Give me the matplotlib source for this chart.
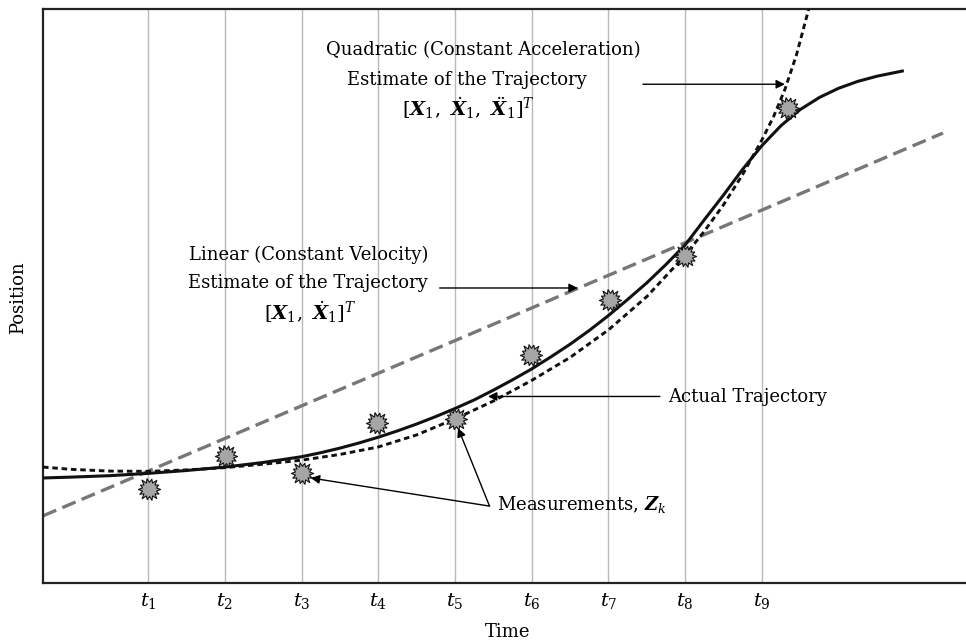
#!/usr/bin/env python3
# trajectory estimates vs measurements sketch
import numpy as np
import matplotlib
matplotlib.use('Agg')
import matplotlib.pyplot as plt
from matplotlib.path import Path

plt.rcParams['font.family'] = ['DejaVu Serif']
plt.rcParams['font.size'] = 13
plt.rcParams['mathtext.fontset'] = 'custom'
plt.rcParams['mathtext.rm'] = 'DejaVu Serif'
plt.rcParams['mathtext.it'] = 'DejaVu Serif:italic'
plt.rcParams['mathtext.bf'] = 'DejaVu Serif:italic:bold'

# sample times (t_k = k) and positions
actual_t = [-0.37, 0, 0.5, 1, 1.5, 2, 2.5, 3, 3.25, 3.5, 3.75, 4, 4.25, 4.5, 4.75, 5,
            5.25, 5.5, 5.75, 6, 6.25, 6.5, 6.75, 7, 7.25, 7.5, 7.75, 8, 8.25, 8.5,
            8.75, 9, 9.25, 9.5, 9.75, 10, 10.25, 10.5, 10.83]
actual_y = [1.83, 1.845, 1.87, 1.91, 1.96, 2.02, 2.10, 2.20, 2.27, 2.35, 2.44, 2.54,
            2.65, 2.77, 2.90, 3.04, 3.19, 3.36, 3.54, 3.73, 3.94, 4.16, 4.40, 4.66,
            4.94, 5.23, 5.55, 5.89, 6.33, 6.76, 7.21, 7.62, 7.97, 8.25, 8.46, 8.62,
            8.74, 8.83, 8.92]

quad_t = [-0.37, 0, 0.5, 1, 1.5, 2, 2.5, 3, 3.5, 4, 4.5, 5, 5.5, 6, 6.5, 7, 7.5, 8,
          8.25, 8.5, 8.75, 9, 9.15, 9.3, 9.45, 9.6, 9.7]
quad_y = [2.02, 1.98, 1.95, 1.945, 1.97, 2.01, 2.07, 2.14, 2.24, 2.37, 2.58, 2.86,
          3.17, 3.53, 3.93, 4.41, 4.99, 5.71, 6.13, 6.59, 7.12, 7.72, 8.12, 8.60,
          9.20, 9.95, 10.5]

lin_t = [-0.37, 11.36]
lin_y = [1.17, 7.84]

meas_t = [1.01, 2.02, 3.0, 3.98, 5.01, 5.99, 7.02, 8.0, 9.34]
meas_y = [1.64, 2.21, 1.92, 2.79, 2.86, 3.97, 4.93, 5.70, 8.28]

tick_pos = list(range(1, 10))
tick_labels = ['$t_{%d}$' % k for k in tick_pos]

# jagged burst marker
n = 14
jit = [1.0, 0.92, 1.05, 0.95, 1.0, 1.08, 0.9, 1.0, 0.97, 1.06, 0.93, 1.0, 1.04, 0.95]
verts = []
for i in range(n):
    a = 2 * np.pi * i / n
    b = a + np.pi / n
    verts.append((jit[i] * np.cos(a), jit[i] * np.sin(a)))
    verts.append((0.64 * np.cos(b), 0.64 * np.sin(b)))
verts.append(verts[0])
burst = Path(verts, closed=True)

fig = plt.figure(figsize=(9.66, 6.42), dpi=100)
ax = fig.add_axes([0.0445, 0.0919, 0.9555, 0.894])
ax.set_xlim(-0.37, 11.66)
ax.set_ylim(0, 10)

for k in tick_pos:
    ax.axvline(k, color='#b8b8b8', lw=1.0, zorder=0)

ax.plot(lin_t, lin_y, color='#777777', lw=2.4, ls=(0, (4.3, 2.0)), zorder=2)
ax.plot(actual_t, actual_y, color='#111111', lw=2.2, zorder=3)
ax.plot(quad_t, quad_y, color='#111111', lw=2.1, ls=(0, (1.9, 1.3)), zorder=3)
ax.plot(meas_t, meas_y, ls='none', marker=burst, ms=16, mfc='#a6a6a6', mec='#111111',
        mew=0.8, zorder=4)

ap = dict(arrowstyle='-|>', color='black', lw=1.0, mutation_scale=13, shrinkA=0, shrinkB=0)

ax.text(5.37, 9.29, 'Quadratic (Constant Acceleration)', ha='center', va='center')
ax.text(5.16, 8.76, 'Estimate of the Trajectory', ha='center', va='center')
ax.text(5.17, 8.28, r'$[\mathbf{X}_1,\ \dot{\mathbf{X}}_1,\ \ddot{\mathbf{X}}_1]^T$',
        ha='center', va='center', fontsize=14)
ax.annotate('', xy=(9.30, 8.69), xytext=(7.45, 8.69), arrowprops=ap)

ax.text(3.09, 5.71, 'Linear (Constant Velocity)', ha='center', va='center')
ax.text(3.08, 5.23, 'Estimate of the Trajectory', ha='center', va='center')
ax.text(3.11, 4.72, r'$[\mathbf{X}_1,\ \dot{\mathbf{X}}_1]^T$', ha='center', va='center',
        fontsize=14)
ax.annotate('', xy=(6.60, 5.14), xytext=(4.80, 5.14), arrowprops=ap)

ax.text(7.78, 3.24, 'Actual Trajectory', ha='left', va='center')
ax.annotate('', xy=(5.43, 3.25), xytext=(7.67, 3.25), arrowprops=ap)

ax.text(5.55, 1.36, r'Measurements, $\mathbf{Z}_k$', ha='left', va='center')
ax.annotate('', xy=(3.12, 1.83), xytext=(5.45, 1.34), arrowprops=ap)
ax.annotate('', xy=(5.04, 2.70), xytext=(5.45, 1.34), arrowprops=ap)

ax.set_xticks(tick_pos)
ax.set_xticklabels(tick_labels, fontsize=14)
ax.set_yticks([])
ax.tick_params(axis='x', length=0, pad=6)
ax.spines['right'].set_visible(False)
for s in ('left', 'top', 'bottom'):
    ax.spines[s].set_linewidth(1.6)
    ax.spines[s].set_color('#222222')

fig.text(508 / 966, 1 - 632 / 642, 'Time', ha='center', va='center')
fig.text(18 / 966, 1 - 298 / 642, 'Position', ha='center', va='center', rotation=90)

fig.savefig('out.png', dpi=100)
